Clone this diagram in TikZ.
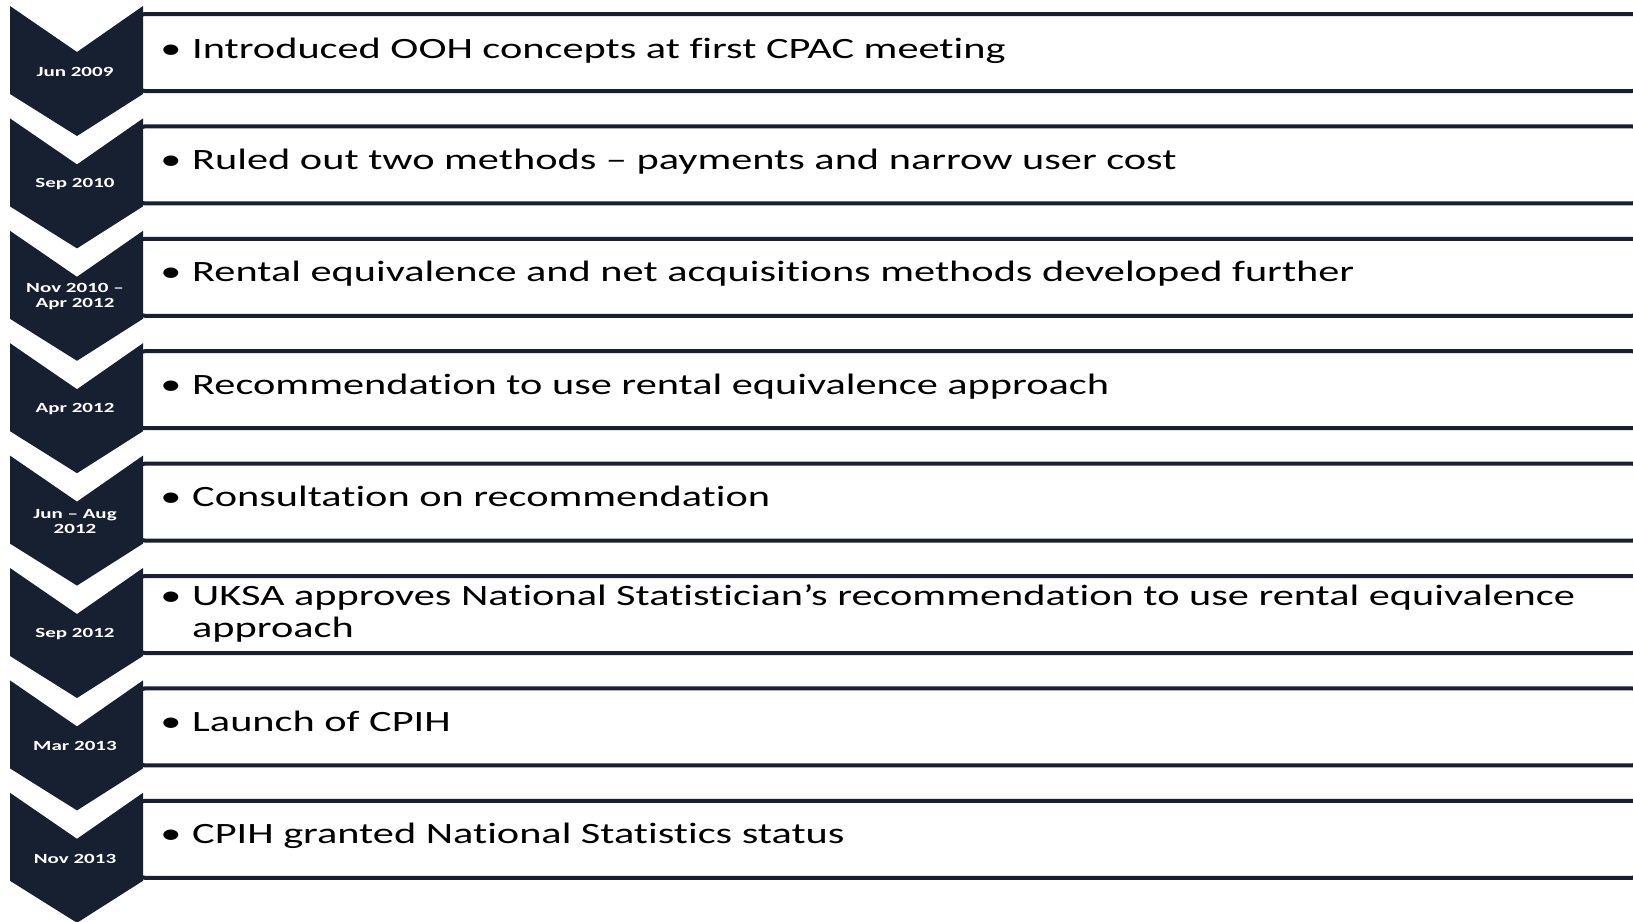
\documentclass[tikz,border=0pt]{standalone}
\usepackage{fontspec}
\setmainfont{Carlito}
\newfontfamily\itemfont[FakeStretch=1.435,Ligatures={NoCommon,NoContextual}]{Carlito}
\newfontfamily\datefont[FakeStretch=1.5,Ligatures={NoCommon,NoContextual}]{Carlito}
\definecolor{navy}{RGB}{22,32,48}
\begin{document}
\begin{tikzpicture}[x=1pt,y=-1pt,
  chev/.style={fill=navy},
  entry/.style={draw=navy, line width=4pt, fill=white, rounded corners=10pt,
    minimum width=1507pt, minimum height=77pt, anchor=north west, inner sep=0pt},
  itemtext/.style={anchor=base west, align=left, inner sep=0pt, text=black,
    font=\itemfont\fontsize{29.5}{32}\selectfont},
  bul/.style={anchor=base, inner sep=0pt, text=black,
    font=\itemfont\fontsize{29.5}{32}\selectfont},
  datetext/.style={text=white, align=center, inner sep=0pt,
    font=\datefont\bfseries\fontsize{14}{15}\selectfont}]
\useasboundingbox (0,0) rectangle (1633,921);
\fill[white] (0,0) rectangle (1633,921);
\clip (0,0) rectangle (1633,921);
% row / date / entry text / baseline of first line / baseline of last line
\foreach \i/\d/\txt/\first/\last in {
  0/{Jun 2009}/{Introduced OOH concepts at first CPAC meeting}/52/52,
  1/{Sep 2010}/{Ruled out two methods – payments and narrow user cost}/51/51,
  2/{Nov 2010 –\\Apr 2012}/{Rental equivalence and net acquisitions methods developed further}/51/51,
  3/{Apr 2012}/{Recommendation to use rental equivalence approach}/51/51,
  4/{Jun – Aug\\2012}/{Consultation on recommendation}/51/51,
  5/{Sep 2012}/{UKSA approves National Statistician’s recommendation to use rental equivalence\\approach}/37/69,
  6/{Mar 2013}/{Launch of CPIH}/51/51,
  7/{Nov 2013}/{CPIH granted National Statistics status}/51/51}{
  \pgfmathsetmacro{\t}{6+112.4*\i}
  % white entry box with dark frame, left end tucked under the chevron
  \node[entry] (box\i) at (133,\t+6) {};
  % chevron marker
  \fill[chev] (10,\t) -- (77,\t+46) -- (143,\t) -- (143,\t+88)
    -- (77,\t+130) -- (10,\t+88) -- cycle;
  \node[datetext] (date\i) at (75,\t+66) {\d};
  \node[bul] (bul\i) at (171,\t+\first) {•};
  \node[itemtext] (item\i) at (192,\t+\last) {\txt};
}
\end{tikzpicture}
\end{document}
